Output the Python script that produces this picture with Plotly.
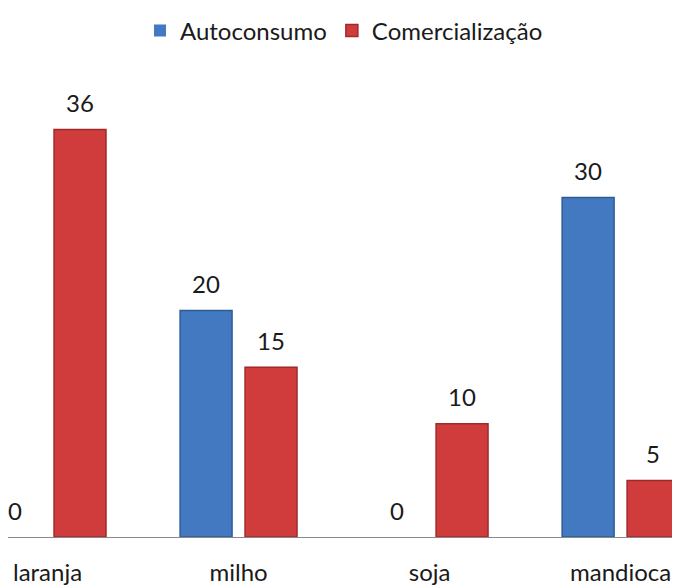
import plotly.graph_objects as go

categories = ["laranja", "milho", "soja", "mandioca"]
autoconsumo = [0, 20, 0, 30]
comercializacao = [36, 15, 10, 5]

FONT = "Lato, 'Open Sans', sans-serif"
TEXT = "#1a1a1a"
BLUE = "#4379c0"
BLUE_EDGE = "#2d5b98"
RED = "#d03c3c"
RED_EDGE = "#a02a2a"

positions = list(range(len(categories)))


def edge_widths(values):
    # no outline on empty bars, so nothing shows on the baseline
    return [0 if v == 0 else 1.5 for v in values]


fig = go.Figure()
fig.add_trace(
    go.Bar(
        x=positions,
        y=autoconsumo,
        name="Autoconsumo",
        marker=dict(color=BLUE, line=dict(color=BLUE_EDGE, width=edge_widths(autoconsumo))),
    )
)
fig.add_trace(
    go.Bar(
        x=positions,
        y=comercializacao,
        name="Comercialização",
        marker=dict(color=RED, line=dict(color=RED_EDGE, width=edge_widths(comercializacao))),
    )
)

# value labels sit a little above each bar, zeros included
offset = 0.34 / 2
for series, shift in [(autoconsumo, -offset), (comercializacao, offset)]:
    for pos, value in zip(positions, series):
        fig.add_annotation(
            x=pos + shift,
            y=value,
            text=str(value),
            showarrow=False,
            yanchor="middle",
            yshift=27,
            font=dict(family=FONT, size=24, color=TEXT),
        )

# the page body adds an 8px margin, so the figure is sized to the remaining area
fig.update_layout(
    width=672,
    height=578,
    barmode="group",
    bargap=0.32,
    bargroupgap=0.2,
    plot_bgcolor="white",
    paper_bgcolor="white",
    margin=dict(l=0, r=0, t=52, b=45),
    font=dict(family=FONT, size=24, color=TEXT),
    legend=dict(
        orientation="h",
        x=0.5,
        xanchor="center",
        y=1.072,
        yanchor="middle",
        font=dict(family=FONT, size=24, color=TEXT),
    ),
)
fig.update_xaxes(
    tickmode="array",
    tickvals=positions,
    ticktext=categories,
    range=[-0.207, 3.311],
    showline=True,
    linecolor="#8a8a8a",
    linewidth=1,
    showgrid=False,
    zeroline=False,
    ticks="",
    ticklabelstandoff=14,
)
fig.update_yaxes(visible=False, range=[0, 41.7])

fig.write_html("out.html")
